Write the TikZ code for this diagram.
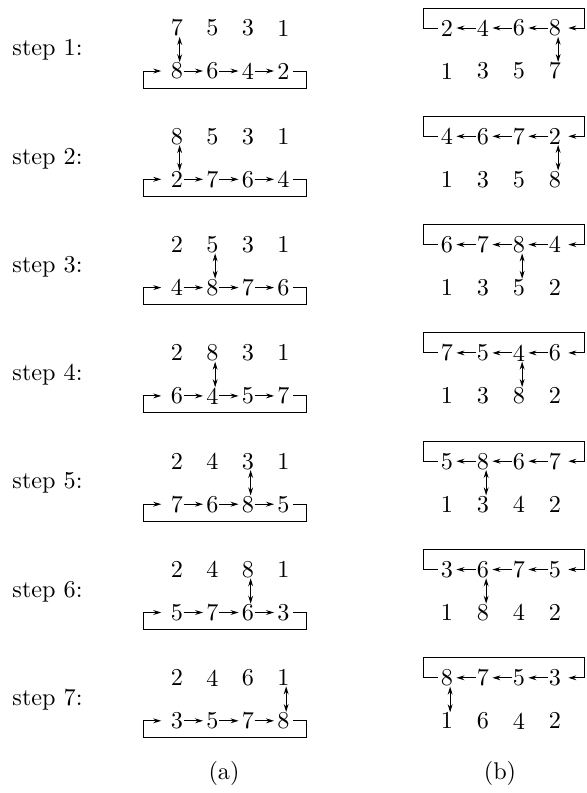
\documentclass[tikz,border=0pt]{standalone}
\usetikzlibrary{arrows.meta}
\begin{document}
\begin{tikzpicture}[x=0.4132pt,y=-0.4132pt,
  dig/.style={inner sep=0pt},
  lab/.style={inner sep=0pt,anchor=west},
  arr/.style={-{Stealth[length=3.3pt,width=2pt]}},
  dbl/.style={{Stealth[length=3.3pt,width=2pt]}-{Stealth[length=3.3pt,width=2pt]}}]
\useasboundingbox (0,0) rectangle (586,793);
% (a) column
\foreach \k/\ta/\tb/\tc/\td/\ba/\bb/\bc/\bd/\c in {
  1/7/5/3/1/8/6/4/2/1,
  2/8/5/3/1/2/7/6/4/1,
  3/2/5/3/1/4/8/7/6/2,
  4/2/8/3/1/6/4/5/7/2,
  5/2/4/3/1/7/6/8/5/3,
  6/2/4/8/1/5/7/6/3/3,
  7/2/4/6/1/3/5/7/8/4}{
  \pgfmathsetmacro\y{108.3*(\k-1)}
  \node[lab] (s\k) at (12,50+\y) {step \k:};
  \node[dig] (at\k-1) at (177,28+\y) {\ta};
  \node[dig] (at\k-2) at (212.5,28+\y) {\tb};
  \node[dig] (at\k-3) at (248,28+\y) {\tc};
  \node[dig] (at\k-4) at (283.5,28+\y) {\td};
  \node[dig] (ab\k-1) at (177,71+\y) {\ba};
  \node[dig] (ab\k-2) at (212.5,71+\y) {\bb};
  \node[dig] (ab\k-3) at (248,71+\y) {\bc};
  \node[dig] (ab\k-4) at (283.5,71+\y) {\bd};
  \coordinate (al\k) at (143,71+\y);
  \coordinate (ar\k) at (306,71+\y);
  \coordinate (alb\k) at (143,88+\y);
  \coordinate (arb\k) at (306,88+\y);
  \draw[arr,shorten <=1.2pt,shorten >=3.8pt] (ab\k-4.east) -- (ar\k) -- (arb\k) -- (alb\k) -- (al\k) -- (ab\k-1.west);
  \draw[arr,shorten >=1.2pt] (ab\k-1.east) -- (ab\k-2.west);
  \draw[arr,shorten >=1.2pt] (ab\k-2.east) -- (ab\k-3.west);
  \draw[arr,shorten >=1.2pt] (ab\k-3.east) -- (ab\k-4.west);
  \draw[dbl] ([xshift=1.1pt]at\k-\c.south) -- ([xshift=1.1pt]ab\k-\c.north);
}
% (b) column
\foreach \k/\ta/\tb/\tc/\td/\ba/\bb/\bc/\bd/\c in {
  1/2/4/6/8/1/3/5/7/4,
  2/4/6/7/2/1/3/5/8/4,
  3/6/7/8/4/1/3/5/2/3,
  4/7/5/4/6/1/3/8/2/3,
  5/5/8/6/7/1/3/4/2/2,
  6/3/6/7/5/1/8/4/2/2,
  7/8/7/5/3/1/6/4/2/1}{
  \pgfmathsetmacro\y{108.3*(\k-1)}
  \node[dig] (bt\k-1) at (447,28+\y) {\ta};
  \node[dig] (bt\k-2) at (483,28+\y) {\tb};
  \node[dig] (bt\k-3) at (519,28+\y) {\tc};
  \node[dig] (bt\k-4) at (555,28+\y) {\td};
  \node[dig] (bb\k-1) at (447,71+\y) {\ba};
  \node[dig] (bb\k-2) at (483,71+\y) {\bb};
  \node[dig] (bb\k-3) at (519,71+\y) {\bc};
  \node[dig] (bb\k-4) at (555,71+\y) {\bd};
  \coordinate (bl\k) at (423,28+\y);
  \coordinate (br\k) at (584,28+\y);
  \coordinate (blt\k) at (423,8+\y);
  \coordinate (brt\k) at (584,8+\y);
  \draw[arr,shorten <=1.2pt,shorten >=2.8pt] (bt\k-1.west) -- (bl\k) -- (blt\k) -- (brt\k) -- (br\k) -- (bt\k-4.east);
  \draw[arr,shorten >=1.2pt] (bt\k-4.west) -- (bt\k-3.east);
  \draw[arr,shorten >=1.2pt] (bt\k-3.west) -- (bt\k-2.east);
  \draw[arr,shorten >=1.2pt] (bt\k-2.west) -- (bt\k-1.east);
  \draw[dbl] ([xshift=1.3pt]bt\k-\c.south) -- ([xshift=1.3pt]bb\k-\c.north);
}
\node[dig] (capa) at (224,773) {(a)};
\node[dig] (capb) at (500,773) {(b)};
\end{tikzpicture}
\end{document}
